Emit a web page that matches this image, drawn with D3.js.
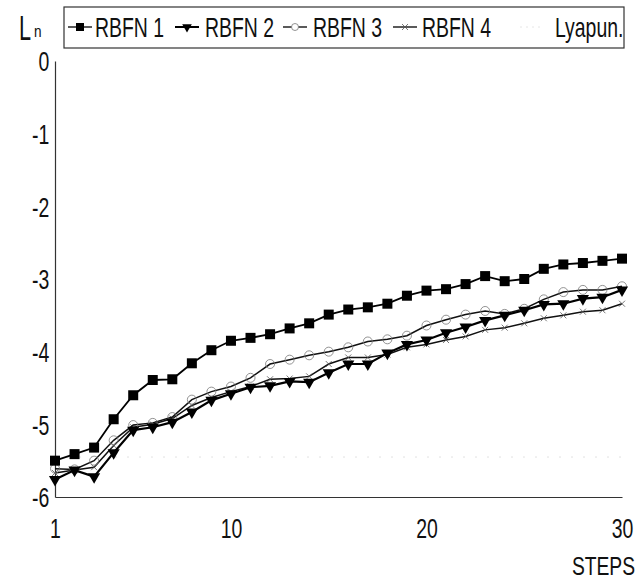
<!DOCTYPE html>
<html>
<head>
<meta charset="utf-8">
<script src="https://cdn.jsdelivr.net/npm/d3@7"></script>
<style>
  body { margin: 0; background: #fff; }
  svg text { font-family: "Liberation Sans", Arial, sans-serif; fill: #111; }
</style>
</head>
<body>
<svg id="chart" width="640" height="582"></svg>
<script>
// steps 1..30
let steps = d3.range(1, 31);

// valeurs
let rbfn1 = [-5.50, -5.41, -5.32, -4.93, -4.60, -4.39, -4.38, -4.16, -3.98, -3.85,
             -3.81, -3.76, -3.68, -3.61, -3.49, -3.42, -3.39, -3.34, -3.23, -3.16,
             -3.14, -3.07, -2.96, -3.03, -3.00, -2.86, -2.80, -2.78, -2.75, -2.72];
let rbfn2 = [-5.76, -5.63, -5.72, -5.39, -5.08, -5.04, -4.97, -4.83, -4.67, -4.58,
             -4.49, -4.47, -4.41, -4.42, -4.29, -4.17, -4.17, -4.02, -3.90, -3.84,
             -3.74, -3.66, -3.57, -3.50, -3.43, -3.35, -3.34, -3.27, -3.25, -3.15];
let rbfn3 = [-5.61, -5.62, -5.50, -5.22, -5.01, -4.98, -4.90, -4.66, -4.55, -4.48,
             -4.36, -4.17, -4.11, -4.05, -4.00, -3.94, -3.86, -3.83, -3.78, -3.64,
             -3.56, -3.49, -3.44, -3.48, -3.41, -3.28, -3.18, -3.15, -3.15, -3.10];
let rbfn4 = [-5.67, -5.63, -5.59, -5.29, -5.04, -5.00, -4.92, -4.74, -4.63, -4.55,
             -4.48, -4.38, -4.37, -4.34, -4.17, -4.08, -4.08, -4.04, -3.94, -3.90,
             -3.84, -3.79, -3.70, -3.67, -3.61, -3.54, -3.50, -3.45, -3.43, -3.34];
let lyapunov = steps.map(function(){ return -5.45; }); // ligne presque invisible

let xTicks = [1, 10, 20, 30];
let yTicks = [0, -1, -2, -3, -4, -5, -6];
let legendNames = ["RBFN 1", "RBFN 2", "RBFN 3", "RBFN 4", "Lyapun."];

let svg = d3.select("#chart");

let x = d3.scaleLinear().domain([1, 30]).range([55, 622]);
let y = d3.scaleLinear().domain([-6, 0]).range([497, 61]);

// police etroite : Liberation Sans compressee
let narrow = "scale(0.72,1)";

// axes
let xAxis = d3.axisBottom(x).tickValues(xTicks).tickSize(0).tickPadding(22);
let yAxis = d3.axisLeft(y).tickValues(yTicks).tickSize(0).tickPadding(8)
    .tickFormat(function(d){ return String(d); });

let gx = svg.append("g").attr("transform", "translate(0," + y(-6) + ")").call(xAxis);
gx.select(".domain").attr("stroke", "#333").attr("stroke-width", 1.2);
gx.selectAll("text").attr("font-size", 27).attr("transform", narrow);

let gy = svg.append("g").attr("transform", "translate(" + x(1) + ",0)").call(yAxis);
gy.select(".domain").attr("stroke", "#333").attr("stroke-width", 1.2);
gy.selectAll("text").attr("font-size", 27).attr("dy", "0.36em").attr("transform", narrow);

// titres des axes
svg.append("text").attr("transform", "translate(19,40) scale(0.62,1)")
  .attr("font-size", 35).text("L");
svg.append("text").attr("transform", "translate(34,37) scale(0.8,1)")
  .attr("font-size", 17).text("n");
svg.append("text").attr("transform", "translate(635,575) scale(0.77,1)")
  .attr("text-anchor", "end").attr("font-size", 25).text("STEPS");

let line = d3.line()
    .x(function(d, i){ return x(steps[i]); })
    .y(function(d){ return y(d); });

// Lyapunov : trait tres pale
svg.append("path").datum(lyapunov).attr("d", line)
  .attr("fill", "none").attr("stroke", "#e2e2e2").attr("stroke-width", 1)
  .attr("stroke-dasharray", "2,10");

// RBFN 4 : trait fin + petites croix
svg.append("path").datum(rbfn4).attr("d", line)
  .attr("fill", "none").attr("stroke", "#111").attr("stroke-width", 1.5);
svg.append("g").selectAll("path").data(rbfn4).join("path")
  .attr("transform", function(d, i){ return "translate(" + x(steps[i]) + "," + y(d) + ")"; })
  .attr("d", "M-3,-3L3,3M-3,3L3,-3")
  .attr("stroke", "#555").attr("stroke-width", 0.8);

// RBFN 3 : cercles ouverts
svg.append("path").datum(rbfn3).attr("d", line)
  .attr("fill", "none").attr("stroke", "#111").attr("stroke-width", 1.5);
svg.append("g").selectAll("circle").data(rbfn3).join("circle")
  .attr("cx", function(d, i){ return x(steps[i]); })
  .attr("cy", function(d){ return y(d); })
  .attr("r", 4.5).attr("fill", "none").attr("stroke", "#777").attr("stroke-width", 0.8);

// RBFN 2 : triangles pleins
svg.append("path").datum(rbfn2).attr("d", line)
  .attr("fill", "none").attr("stroke", "#000").attr("stroke-width", 2.2);
let tri = d3.symbol().type(d3.symbolTriangle).size(64);
svg.append("g").selectAll("path").data(rbfn2).join("path")
  .attr("transform", function(d, i){ return "translate(" + x(steps[i]) + "," + y(d) + ") rotate(180)"; })
  .attr("d", tri).attr("fill", "#000");

// RBFN 1 : carres pleins
svg.append("path").datum(rbfn1).attr("d", line)
  .attr("fill", "none").attr("stroke", "#000").attr("stroke-width", 1.8);
svg.append("g").selectAll("rect").data(rbfn1).join("rect")
  .attr("x", function(d, i){ return x(steps[i]) - 5; })
  .attr("y", function(d){ return y(d) - 5; })
  .attr("width", 10).attr("height", 10).attr("fill", "#000");

// legende
let lg = svg.append("g");
lg.append("rect").attr("x", 64).attr("y", 7).attr("width", 560).attr("height", 41)
  .attr("fill", "none").attr("stroke", "#333").attr("stroke-width", 1.2);
let legX = [68, 175, 283, 393, 520];
let legTextX = [95, 205, 313, 422, 555];
legendNames.forEach(function(name, i){
  let lx = legX[i], ly = 27;
  if (i < 4) {
    lg.append("line").attr("x1", lx).attr("x2", lx + 24).attr("y1", ly).attr("y2", ly)
      .attr("stroke", "#000").attr("stroke-width", i == 1 ? 2 : 1.3);
  } else {
    lg.append("line").attr("x1", lx).attr("x2", lx + 24).attr("y1", ly).attr("y2", ly)
      .attr("stroke", "#e6e6e6").attr("stroke-width", 1).attr("stroke-dasharray", "2,4");
  }
  let cx = lx + 12;
  if (i == 0) lg.append("rect").attr("x", cx - 4).attr("y", ly - 4).attr("width", 8).attr("height", 8).attr("fill", "#000");
  if (i == 1) lg.append("path").attr("transform", "translate(" + cx + "," + ly + ") rotate(180)")
    .attr("d", d3.symbol().type(d3.symbolTriangle).size(40)).attr("fill", "#000");
  if (i == 2) lg.append("circle").attr("cx", cx).attr("cy", ly).attr("r", 3.5)
    .attr("fill", "#fff").attr("stroke", "#777").attr("stroke-width", 0.8);
  if (i == 3) lg.append("path").attr("transform", "translate(" + cx + "," + ly + ")")
    .attr("d", "M-3,-3L3,3M-3,3L3,-3").attr("stroke", "#555").attr("stroke-width", 0.8);
  lg.append("text").attr("transform", "translate(" + legTextX[i] + "," + (ly + 10) + ") " + narrow)
    .attr("font-size", 27).text(name);
});
</script>
</body>
</html>
